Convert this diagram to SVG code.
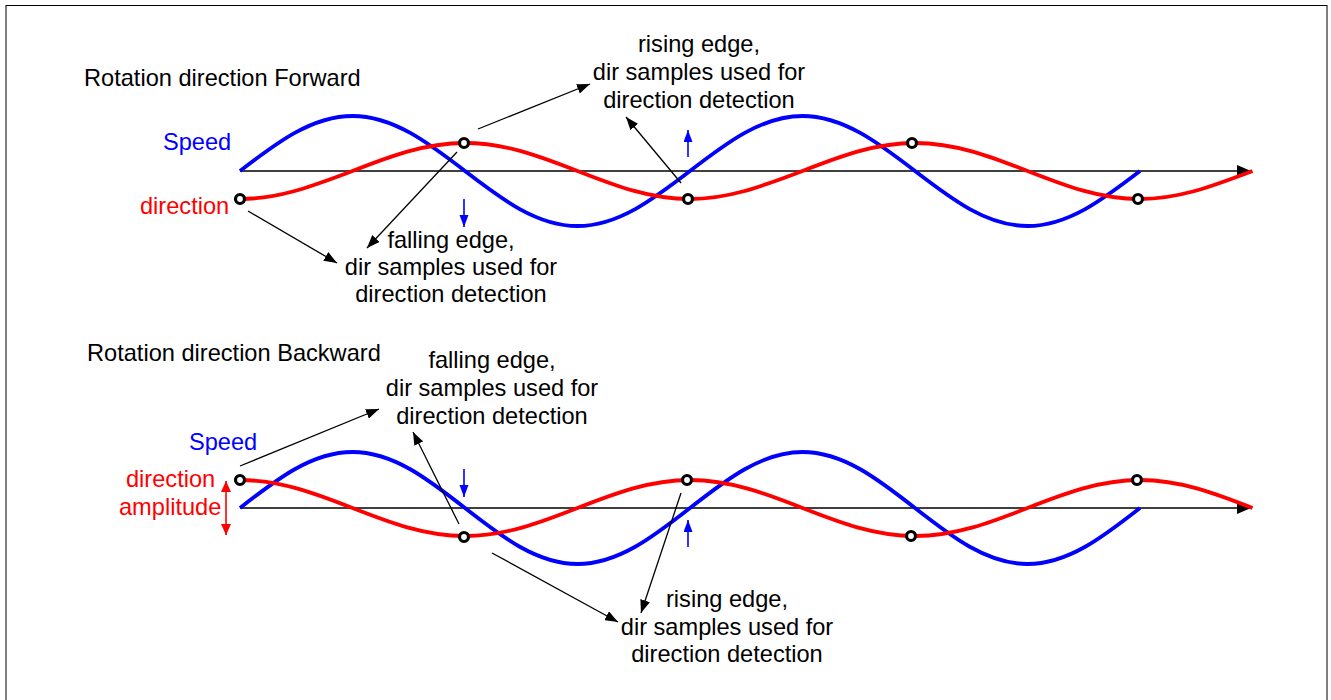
<svg xmlns="http://www.w3.org/2000/svg" width="1331" height="700" viewBox="0 0 1331 700">
<style>
text{font-family:"Liberation Sans",Arial,sans-serif;font-size:23.6px}
.k{fill:#000}
.b{fill:#0000ff}
.r{fill:#ff0000}
.mid{text-anchor:middle}
.speed{fill:none;stroke:#0000ff;stroke-width:3.8}
.dir{fill:none;stroke:#ff0000;stroke-width:3.8}
.axis{stroke:#000;stroke-width:1.6}
.dot{fill:#fff;stroke:#000;stroke-width:3.2}
.ptr{stroke:#000;stroke-width:1.3;fill:none;marker-end:url(#ah)}
.edge{stroke:#0000ff;stroke-width:1.6;fill:none;marker-end:url(#bh)}
</style>
<defs>
<marker id="ah" markerUnits="userSpaceOnUse" markerWidth="14" markerHeight="10" refX="13" refY="5" orient="auto">
<path d="M0,0 L13,5 L0,10 z" fill="#000"/>
</marker>
<marker id="bh" markerUnits="userSpaceOnUse" markerWidth="12" markerHeight="10" refX="12" refY="4.5" orient="auto">
<path d="M0,0 L12,4.5 L0,9 z" fill="#0000ff"/>
</marker>
<marker id="rh" markerUnits="userSpaceOnUse" markerWidth="12" markerHeight="10" refX="11" refY="5" orient="auto-start-reverse">
<path d="M0,0 L11,5 L0,10 z" fill="#ff0000"/>
</marker>
</defs>
<rect x="6" y="5.5" width="1321" height="700" fill="#fff" stroke="#000" stroke-width="1"/>

<g id="forward-panel">
<text id="title-forward" class="k" x="84" y="85.5">Rotation direction Forward</text>
<g id="axis-forward">
<line class="axis" x1="240" y1="171" x2="1240" y2="171"/>
<polygon points="1237,165 1251,171 1237,177" fill="#000"/>
</g>
<g id="speed-forward">
<path class="speed" d="M240,171 C276.69,142.82 311.79,116 352.5,116 C393.21,116 428.31,142.82 465,171 C501.69,199.18 536.79,226 577.5,226 C618.21,226 653.31,199.18 690,171 C726.69,142.82 761.79,116 802.5,116 C843.21,116 878.31,142.82 915,171 C951.69,199.18 986.79,226 1027.5,226 C1068.21,226 1103.31,199.18 1140,171"/>
<text class="b" x="163" y="149.5">Speed</text>
</g>
<g id="direction-forward">
<path class="dir" d="M240,199 C280.71,199 315.81,184.66 352.5,171 C389.19,156.66 424.29,143 465,143 C505.71,143 540.81,156.66 577.5,171 C614.19,185.34 649.29,199 690,199 C730.71,199 765.81,184.66 802.5,171 C839.19,156.66 874.29,143 915,143 C955.71,143 990.81,156.66 1027.5,171 C1064.19,185.34 1099.29,199 1140,199 C1180.71,199 1215.81,184.66 1252.5,171"/>
<text class="r" x="140" y="214">direction</text>
</g>
<g id="samples-forward">
<circle class="dot" cx="240" cy="199" r="4.5"/>
<circle class="dot" cx="464" cy="143" r="4.5"/>
<circle class="dot" cx="688" cy="199" r="4.5"/>
<circle class="dot" cx="912" cy="143" r="4.5"/>
<circle class="dot" cx="1138" cy="199" r="4.5"/>
</g>
<g id="label-rising-forward">
<text class="k mid" x="699" y="52">rising edge,</text>
<text class="k mid" x="699" y="80">dir samples used for</text>
<text class="k mid" x="699" y="108">direction detection</text>
</g>
<g id="label-falling-forward">
<text class="k mid" x="451" y="248">falling edge,</text>
<text class="k mid" x="451" y="275">dir samples used for</text>
<text class="k mid" x="451" y="302">direction detection</text>
</g>
</g>

<g id="backward-panel">
<text id="title-backward" class="k" x="87" y="360.5">Rotation direction Backward</text>
<g id="axis-backward">
<line class="axis" x1="240" y1="508" x2="1240" y2="508" stroke="#333"/>
<polygon points="1237,502 1251,508 1237,514" fill="#000"/>
</g>
<g id="speed-backward">
<path class="speed" d="M240,508 C276.69,479.31 311.79,452 352.5,452 C393.21,452 428.31,479.31 465,508 C501.69,536.69 536.79,564 577.5,564 C618.21,564 653.31,536.69 690,508 C726.69,479.31 761.79,452 802.5,452 C843.21,452 878.31,479.31 915,508 C951.69,536.69 986.79,564 1027.5,564 C1068.21,564 1103.31,536.69 1140,508"/>
<text class="b" x="189" y="450">Speed</text>
</g>
<g id="direction-backward">
<path class="dir" d="M240,480 C280.71,480 315.81,493.66 352.5,508 C389.19,522.34 424.29,536 465,536 C505.71,536 540.81,522.34 577.5,508 C614.19,493.66 649.29,480 690,480 C730.71,480 765.81,493.66 802.5,508 C839.19,522.34 874.29,536 915,536 C955.71,536 990.81,522.34 1027.5,508 C1064.19,493.66 1099.29,480 1140,480 C1180.71,480 1215.81,493.66 1252.5,508"/>
<text class="r" x="126" y="486.5">direction</text>
<text class="r" x="119" y="514.5">amplitude</text>
<line x1="226" y1="481" x2="226" y2="535" stroke="#ff0000" stroke-width="1.6" marker-start="url(#rh)" marker-end="url(#rh)"/>
</g>
<g id="samples-backward">
<circle class="dot" cx="240" cy="480" r="4.5"/>
<circle class="dot" cx="464" cy="537" r="4.5"/>
<circle class="dot" cx="687" cy="480" r="4.5"/>
<circle class="dot" cx="911" cy="536" r="4.5"/>
<circle class="dot" cx="1137" cy="480" r="4.5"/>
</g>
<g id="label-falling-backward">
<text class="k mid" x="492" y="368">falling edge,</text>
<text class="k mid" x="492" y="396">dir samples used for</text>
<text class="k mid" x="492" y="424">direction detection</text>
</g>
<g id="label-rising-backward">
<text class="k mid" x="727" y="607">rising edge,</text>
<text class="k mid" x="727" y="635">dir samples used for</text>
<text class="k mid" x="727" y="662">direction detection</text>
</g>
</g>

<g id="connectors">
<line class="ptr" x1="478" y1="129" x2="590" y2="84"/>
<line class="ptr" x1="681" y1="183" x2="626" y2="117"/>
<line class="ptr" x1="457" y1="152" x2="367" y2="248"/>
<line class="ptr" x1="248" y1="211" x2="337" y2="263"/>
<line class="ptr" x1="240" y1="466" x2="379" y2="409"/>
<line class="ptr" x1="459" y1="524" x2="413" y2="432"/>
<line class="ptr" x1="492" y1="553" x2="618" y2="622"/>
<line class="ptr" x1="681" y1="493" x2="641" y2="613"/>
<line class="edge" x1="464" y1="199" x2="464" y2="227"/>
<line class="edge" x1="688" y1="157" x2="688" y2="130"/>
<line class="edge" x1="464" y1="469" x2="464" y2="497"/>
<line class="edge" x1="688" y1="547" x2="688" y2="520"/>
</g>
</svg>
